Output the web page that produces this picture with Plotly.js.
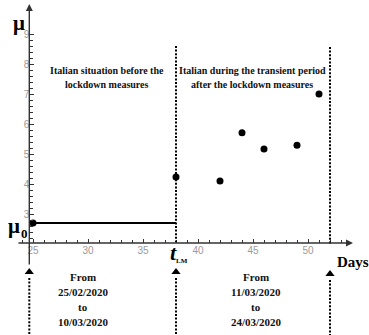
<!DOCTYPE html>
<html>
<head>
<meta charset="utf-8">
<script src="https://cdn.plot.ly/plotly-3.0.1.min.js"></script>
<style>html,body{margin:0;padding:0;background:#fff;}#chart{width:369px;height:335px;}</style>
</head>
<body>
<div id="chart"></div>
<script>
// ---- data ----
const days = [25, 38, 42, 44, 46, 49, 51];
const mu = [2.7, 4.23, 4.1, 5.71, 5.17, 5.29, 7.0];
const mu0 = 2.7;
const tStart = 25;
const tLM = 38;
const tEnd = 52;
const xTickVals = [25, 30, 35, 40, 45, 50];
const xTickText = ['25', '30', '35', '40', '45', '50'];
const yTickVals = [3, 4, 5, 6, 7, 8, 9];
const yTickText = ['3', '4', '5', '6', '7', '8', '9'];
const leftTitle = ['Italian situation before the', 'lockdown measures'];
const rightTitle = ['Italian during the transient period', 'after the lockdown measures'];
const leftPeriod = ['From', '25/02/2020', 'to', '10/03/2020'];
const rightPeriod = ['From', '11/03/2020', 'to', '24/03/2020'];

// ---- geometry helpers (pixel <-> paper / data) ----
const W = 369, H = 335;
const xPxPerUnit = 11, yPxPerUnit = 30;
const xAt0 = 25, xPx0 = 33;     // day 25 at pixel 33
const yAt0 = 9, yPx0 = 34;      // mu 9 at pixel 34
const xd = px => xAt0 + (px - xPx0) / xPxPerUnit;
const yd = py => yAt0 - (py - yPx0) / yPxPerUnit;
const fx = px => px / W;
const fy = py => (H - py) / H;
const axisXpx = 29.3, axisYpx = 243;
const yAxisDay = xd(axisXpx);
const xDomPx = [17, 353], yDomPx = [243, 31];

const serif = 'Liberation Serif, Times New Roman, serif';

const traces = [
  {x: [tStart, tLM], y: [mu0, mu0], mode: 'lines', line: {color: '#000', width: 2}, hoverinfo: 'skip', showlegend: false},
  {x: days, y: mu, mode: 'markers', marker: {color: '#000', size: 7}, showlegend: false},
  {x: [yAxisDay, tLM, tEnd], y: [yd(272), yd(272), yd(274)], yaxis: 'y2', mode: 'markers',
   marker: {symbol: 'triangle-up', color: '#000', size: 8}, hoverinfo: 'skip', showlegend: false}
];

const dotted = {color: '#000', width: 2, dash: '2px,1.6px'};
const shapes = [
  {type: 'line', xref: 'x', yref: 'paper', x0: tLM, x1: tLM, y0: fy(46), y1: fy(243), line: dotted},
  {type: 'line', xref: 'x', yref: 'paper', x0: tEnd, x1: tEnd, y0: fy(47), y1: fy(245), line: dotted},
  {type: 'line', xref: 'x', yref: 'paper', x0: yAxisDay, x1: yAxisDay, y0: fy(278), y1: fy(335), line: dotted},
  {type: 'line', xref: 'x', yref: 'paper', x0: tLM, x1: tLM, y0: fy(278), y1: fy(335), line: dotted},
  {type: 'line', xref: 'x', yref: 'paper', x0: tEnd, x1: tEnd, y0: fy(280), y1: fy(335), line: dotted}
];

const ann = [];
// axes with arrows
ann.push({xref: 'paper', yref: 'paper', x: fx(axisXpx), y: fy(4), ax: 0, ay: 262, text: '',
  showarrow: true, arrowhead: 2, arrowsize: 1, arrowwidth: 1.4, arrowcolor: '#333'});
ann.push({xref: 'paper', yref: 'paper', x: fx(353), y: fy(axisYpx), ax: -336, ay: 0, text: '',
  showarrow: true, arrowhead: 2, arrowsize: 1, arrowwidth: 1.4, arrowcolor: '#333'});
// section titles
function lines(arr, cx, ys, size) {
  arr.forEach((t, i) => ann.push({xref: 'paper', yref: 'paper', x: fx(cx), y: fy(ys[i]), text: '<b>' + t + '</b>',
    showarrow: false, xanchor: 'center', yanchor: 'middle', font: {family: serif, size: size, color: '#111'}}));
}
lines(leftTitle, 107, [71, 84], 10);
lines(rightTitle, 252, [71, 84], 10);
lines(leftPeriod, 83, [277, 292, 307, 322], 11);
lines(rightPeriod, 256, [277, 292, 307, 322], 11);
// symbols
ann.push({xref: 'paper', yref: 'paper', x: fx(19), y: fy(23), text: '<b>μ</b>', showarrow: false,
  xanchor: 'center', yanchor: 'middle', font: {family: serif, size: 21, color: '#000'}});
ann.push({xref: 'paper', yref: 'paper', x: fx(14), y: fy(226), text: '<b>μ</b>', showarrow: false,
  xanchor: 'center', yanchor: 'middle', font: {family: serif, size: 21, color: '#000'}});
ann.push({xref: 'paper', yref: 'paper', x: fx(24), y: fy(233), text: '<b>0</b>', showarrow: false,
  xanchor: 'center', yanchor: 'middle', font: {family: serif, size: 13, color: '#000'}});
ann.push({xref: 'paper', yref: 'paper', x: fx(173), y: fy(252), text: '<b><i>t</i></b>', showarrow: false,
  xanchor: 'center', yanchor: 'middle', font: {family: serif, size: 22, color: '#000'}});
ann.push({xref: 'paper', yref: 'paper', x: fx(182), y: fy(261), text: '<b>LM</b>', showarrow: false,
  xanchor: 'center', yanchor: 'middle', font: {family: serif, size: 7, color: '#000'}});
ann.push({xref: 'paper', yref: 'paper', x: fx(353), y: fy(262), text: '<b>Days</b>', showarrow: false,
  xanchor: 'center', yanchor: 'middle', font: {family: serif, size: 15, color: '#000'}});

const tickFont = {family: 'Liberation Sans, Arial, sans-serif', size: 10, color: '#9a9a9a'};
const layout = {
  width: W, height: H,
  margin: {l: 0, r: 0, t: 0, b: 0, pad: 0},
  paper_bgcolor: '#fff', plot_bgcolor: 'rgba(0,0,0,0)',
  showlegend: false,
  xaxis: {domain: [fx(xDomPx[0]), fx(xDomPx[1])], range: [xd(xDomPx[0]), xd(xDomPx[1])],
    anchor: 'free', position: fy(axisYpx), showline: false, zeroline: false,
    showgrid: false, ticks: 'inside', ticklen: 4, tickwidth: 1, tickcolor: '#333',
    tickmode: 'array', tickvals: xTickVals, ticktext: xTickText, tickfont: tickFont, fixedrange: true,
    minor: {tick0: 25, dtick: 1, ticks: 'inside', ticklen: 3, tickwidth: 1, tickcolor: '#333', showgrid: false}},
  yaxis: {domain: [fy(yDomPx[0]), fy(yDomPx[1])], range: [yd(yDomPx[0]), yd(yDomPx[1])],
    anchor: 'free', position: fx(axisXpx), side: 'left', showline: false, zeroline: false,
    showgrid: false, ticks: 'inside', ticklen: 4, tickwidth: 1, tickcolor: '#333',
    tickmode: 'array', tickvals: yTickVals, ticktext: yTickText, tickfont: tickFont, fixedrange: true,
    minor: {tick0: 3, dtick: 0.2, ticks: 'inside', ticklen: 3, tickwidth: 1, tickcolor: '#333', showgrid: false}},
  yaxis2: {domain: [0, 1], range: [yd(H), yd(0)], anchor: 'x', visible: false, fixedrange: true},
  shapes: shapes,
  annotations: ann
};
Plotly.newPlot('chart', traces, layout, {displayModeBar: false, staticPlot: true});
</script>
</body>
</html>
